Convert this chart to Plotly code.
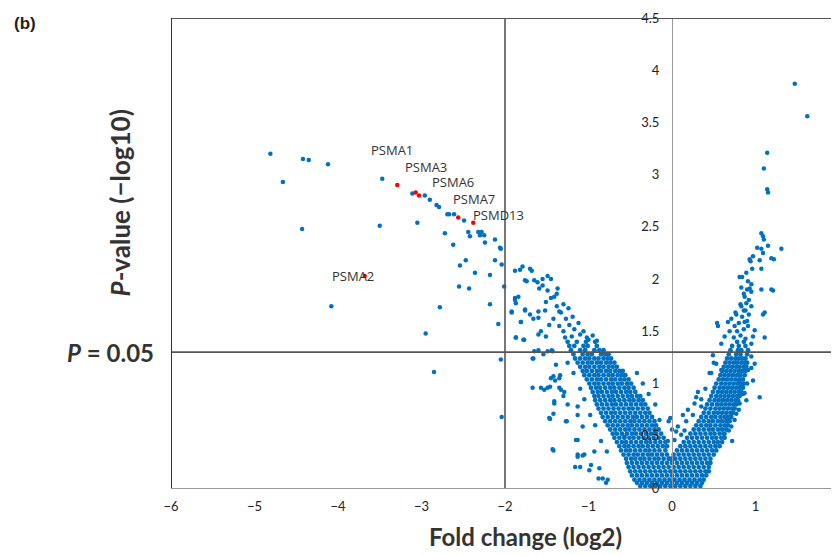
import plotly.graph_objects as go

# ---------------- data ----------------
# dense core of the volcano, row by row: (-log10 p) level and fold changes
base_rows_y = [0.02, 0.05, 0.08, 0.12, 0.16, 0.20, 0.24]
base_rows_x = [
    [-0.38, -0.32, -0.26, -0.20, -0.14, -0.08, -0.02, 0.04, 0.10, 0.16, 0.22, 0.28, 0.34],
    [-0.42, -0.36, -0.30, -0.24, -0.18, -0.12, -0.06, 0.00, 0.06, 0.12, 0.18, 0.24, 0.30, 0.36],
    [-0.45, -0.39, -0.33, -0.27, -0.21, -0.15, -0.09, -0.03, 0.03, 0.09, 0.15, 0.21, 0.27, 0.33, 0.38],
    [-0.48, -0.42, -0.36, -0.30, -0.24, -0.18, -0.12, -0.06, 0.00, 0.06, 0.12, 0.18, 0.24, 0.30, 0.36, 0.41],
    [-0.50, -0.44, -0.38, -0.32, -0.26, -0.20, -0.14, -0.08, -0.02, 0.04, 0.10, 0.16, 0.22, 0.28, 0.34, 0.40, 0.44],
    [-0.52, -0.46, -0.40, -0.34, -0.28, -0.22, -0.16, -0.10, -0.04, 0.02, 0.08, 0.14, 0.20, 0.26, 0.32, 0.38, 0.44],
    [-0.54, -0.48, -0.42, -0.36, -0.30, -0.24, -0.18, -0.12, -0.06, 0.00, 0.06, 0.12, 0.18, 0.24, 0.30, 0.36, 0.42, 0.46],
]

left_rows_y = [0.28, 0.32, 0.36, 0.40, 0.44, 0.48, 0.52, 0.56, 0.60, 0.64, 0.68, 0.72, 0.76, 0.80,
               0.84, 0.88, 0.92, 0.96, 1.00, 1.04, 1.08, 1.12, 1.16, 1.20, 1.24, 1.28, 1.32, 1.36, 1.40]
left_rows_x = [
    [-0.55, -0.49, -0.44, -0.38, -0.33, -0.27, -0.21, -0.16, -0.10, -0.04, 0.01],
    [-0.58, -0.52, -0.46, -0.41, -0.35, -0.29, -0.24, -0.18, -0.12, -0.06],
    [-0.61, -0.55, -0.50, -0.44, -0.38, -0.32, -0.27, -0.21, -0.15, -0.08],
    [-0.63, -0.57, -0.52, -0.46, -0.40, -0.35, -0.29, -0.23, -0.17, -0.11, -0.06],
    [-0.66, -0.60, -0.55, -0.49, -0.43, -0.37, -0.31, -0.26, -0.20, -0.14, -0.08],
    [-0.69, -0.63, -0.57, -0.51, -0.46, -0.40, -0.34, -0.28, -0.22, -0.16, -0.10],
    [-0.71, -0.66, -0.60, -0.54, -0.48, -0.43, -0.37, -0.31, -0.25, -0.19, -0.13],
    [-0.74, -0.68, -0.62, -0.56, -0.51, -0.45, -0.39, -0.33, -0.27, -0.21, -0.16],
    [-0.77, -0.71, -0.65, -0.59, -0.53, -0.48, -0.42, -0.36, -0.30, -0.24, -0.19],
    [-0.80, -0.74, -0.68, -0.62, -0.56, -0.50, -0.45, -0.39, -0.33, -0.27, -0.21],
    [-0.83, -0.77, -0.71, -0.65, -0.59, -0.53, -0.47, -0.42, -0.36, -0.30, -0.24],
    [-0.85, -0.79, -0.73, -0.68, -0.62, -0.56, -0.50, -0.44, -0.38, -0.32, -0.27],
    [-0.88, -0.82, -0.76, -0.70, -0.64, -0.58, -0.52, -0.47, -0.41, -0.35, -0.29],
    [-0.90, -0.84, -0.78, -0.72, -0.67, -0.61, -0.55, -0.49, -0.43, -0.37, -0.32],
    [-0.92, -0.86, -0.80, -0.74, -0.69, -0.63, -0.57, -0.51, -0.46, -0.40, -0.35],
    [-0.93, -0.88, -0.82, -0.76, -0.71, -0.65, -0.59, -0.53, -0.48, -0.42, -0.38],
    [-0.95, -0.89, -0.84, -0.78, -0.72, -0.67, -0.61, -0.55, -0.50, -0.44],
    [-0.97, -0.91, -0.86, -0.80, -0.74, -0.69, -0.63, -0.57, -0.52, -0.46],
    [-0.99, -0.93, -0.88, -0.82, -0.76, -0.71, -0.65, -0.60, -0.54, -0.49],
    [-1.02, -0.96, -0.90, -0.85, -0.79, -0.73, -0.68, -0.62, -0.57, -0.52],
    [-1.05, -0.99, -0.93, -0.88, -0.82, -0.76, -0.71, -0.65, -0.60, -0.56],
    [-1.07, -1.02, -0.96, -0.90, -0.85, -0.79, -0.74, -0.68, -0.63, -0.59],
    [-1.10, -1.04, -0.99, -0.93, -0.87, -0.82, -0.76, -0.71, -0.66],
    [-1.13, -1.07, -1.01, -0.96, -0.90, -0.85, -0.79, -0.74, -0.69],
    [-1.16, -1.10, -1.04, -0.99, -0.93, -0.88, -0.82, -0.77, -0.73],
    [-1.18, -1.07, -1.01, -0.96, -0.85, -0.80, -0.76],
    [-1.21, -1.10, -1.04, -0.93, -0.87, -0.82],
    [-1.23, -1.17, -1.06, -1.01, -0.90],
    [-1.25, -1.14, -1.03, -0.92],
]

right_rows_y = left_rows_y
right_rows_x = [
    [-0.02, 0.04, 0.10, 0.16, 0.22, 0.28, 0.34, 0.40, 0.46],
    [0.02, 0.08, 0.14, 0.20, 0.26, 0.32, 0.38, 0.44, 0.50],
    [0.06, 0.12, 0.18, 0.24, 0.30, 0.36, 0.42, 0.48, 0.53],
    [0.10, 0.16, 0.22, 0.28, 0.34, 0.40, 0.46, 0.52, 0.57],
    [0.14, 0.20, 0.26, 0.32, 0.38, 0.44, 0.50, 0.55, 0.60],
    [0.18, 0.24, 0.30, 0.36, 0.42, 0.48, 0.53, 0.59, 0.63],
    [0.22, 0.28, 0.34, 0.40, 0.46, 0.51, 0.57, 0.62],
    [0.26, 0.32, 0.38, 0.44, 0.49, 0.55, 0.60, 0.65],
    [0.29, 0.35, 0.41, 0.46, 0.52, 0.58, 0.63, 0.67],
    [0.32, 0.38, 0.44, 0.49, 0.55, 0.60, 0.65, 0.69],
    [0.35, 0.41, 0.47, 0.52, 0.58, 0.63, 0.68, 0.71],
    [0.38, 0.44, 0.50, 0.55, 0.60, 0.65, 0.70, 0.73],
    [0.40, 0.46, 0.52, 0.57, 0.62, 0.67, 0.72, 0.75],
    [0.42, 0.48, 0.54, 0.59, 0.64, 0.69, 0.74, 0.77],
    [0.45, 0.51, 0.56, 0.61, 0.66, 0.71, 0.76, 0.79],
    [0.47, 0.53, 0.58, 0.63, 0.68, 0.73, 0.78, 0.81],
    [0.49, 0.55, 0.60, 0.65, 0.70, 0.75, 0.80, 0.83],
    [0.51, 0.57, 0.62, 0.67, 0.72, 0.77, 0.81, 0.85],
    [0.53, 0.59, 0.64, 0.69, 0.74, 0.79, 0.83, 0.86],
    [0.56, 0.61, 0.66, 0.71, 0.76, 0.81, 0.85],
    [0.58, 0.63, 0.68, 0.73, 0.78, 0.82, 0.87],
    [0.60, 0.65, 0.70, 0.75, 0.80, 0.84, 0.88],
    [0.62, 0.67, 0.72, 0.77, 0.81, 0.86, 0.89],
    [0.64, 0.69, 0.74, 0.78, 0.83, 0.87, 0.90],
    [0.66, 0.71, 0.76, 0.80, 0.84, 0.88],
    [0.68, 0.77, 0.82, 0.90],
    [0.70, 0.79, 0.83, 0.91],
    [0.72, 0.80, 0.88],
    [0.78, 0.86],
]

# scattered proteins around the two arms and far outliers
scatter_x = [
    -1.88, -1.82, -1.79, -1.70, -1.68, -1.76, -1.74, -1.65, -1.61, -1.55, -1.49, -1.45, -1.55, -1.59,
    -1.49, -1.37, -1.38, -1.41, -1.45, -1.51, -1.35, -1.88, -1.87, -1.92, -1.81, -1.76, -1.70, -1.60,
    -1.47, -1.57, -1.60, -1.87, -1.77, -1.51, -1.65, -1.60, -1.49, -1.43, -1.67, -1.39, -1.45, -1.35,
    -1.49, -1.67, -1.57, -1.35, -1.29, -1.41, -1.47, -1.25, -1.13, -1.27, -1.13, -1.07, -1.43, -1.15,
    -1.13, -1.16, -1.05, -0.93, -0.97, -0.87, -0.79, -0.83,
    -1.88, -1.84, -1.92, -1.76, -1.66, -1.60, -1.52, -1.87, -1.78, -1.81, -1.66, -1.54, -1.44, -1.53,
    -1.46, -1.40, -1.42, -1.34, -1.33, -1.30, -1.41, -1.42, -1.46, -1.26, -1.42, -1.13, -1.13, -1.10,
    -1.07, -0.99, -0.88, -0.77, -0.57,
    -1.28, -1.20, -1.10, -1.02, -0.95, -1.30, -1.17, -1.06, -1.23, -1.12, -1.35, -1.27, -1.19, -1.33,
    -1.24, -1.30, -1.38, -1.42, -1.00, -0.90,
    -1.05, -1.10, -0.98, -0.92, -0.85, -0.78, -1.18, -1.25, -0.20, -0.15, -0.28, -0.35, -0.42, -0.05,
    1.07, 1.09, 1.10, 1.15, 1.07, 1.09, 0.93, 0.94, 1.05, 1.19, 1.22, 1.07, 0.81, 0.84, 0.91, 0.95,
    0.93, 0.90, 1.07, 1.19, 1.21, 0.87, 0.89, 0.83, 0.86, 0.95, 0.92, 1.11, 1.09, 0.54, 0.55, 0.67,
    0.71, 0.77, 0.59, 0.69, 0.75, 0.63, 0.87, 0.91, 0.99, 0.97, 1.11, 0.95, 0.49, 0.53, 0.59, 0.47,
    0.95, 0.99, 0.91, 0.97, 1.05, 0.31, 0.29, 0.27, 0.35, 0.19, 0.13, 0.17, 0.07, 0.05, 0.11, 0.03,
    -0.02, -0.04, 0.00, 0.80, 0.83, 0.87, 0.89, 0.81, 0.77, 0.67, 0.71, 0.63,
    0.74, 0.82, 0.88, 0.78, 0.86, 0.80, 0.90, 0.84, 0.76, 0.88, 0.82, 0.92, 0.86, 0.95, 0.89, 0.96,
    0.97, 1.02, 0.83,
    0.68, 0.75, 0.80, 0.85, 0.90, 0.95, 0.72, 0.15, 0.25, 0.35, 0.40, 0.45, 0.50,
    1.47, 1.62, 1.14, 1.10, 1.14, 1.15, 1.31,
    -4.81, -4.42, -4.35, -4.12, -4.66, -3.47, -3.11, -2.96, -2.90, -2.82, -2.79, -2.69, -2.67, -2.61,
    -2.49, -2.44, -2.42, -2.32, -2.28, -2.30, -2.25, -2.24, -2.12, -2.06, -2.05, -4.43, -3.50, -3.05,
    -2.72, -2.62, -2.47, -2.54, -2.36, -2.18, -2.12, -2.04, -2.55, -2.43, -2.01, -2.78, -2.18, -2.95,
    -2.08, -2.85, -2.05, -2.04, -4.08,
]
scatter_y = [
    2.08, 2.09, 2.12, 2.10, 2.08, 1.99, 1.98, 1.99, 1.97, 2.00, 2.03, 2.00, 1.94, 1.91,
    1.89, 1.91, 1.86, 1.83, 1.82, 1.78, 1.69, 1.82, 1.77, 1.68, 1.59, 1.71, 1.66, 1.63,
    1.56, 1.50, 1.47, 1.44, 1.42, 1.45, 1.31, 1.32, 1.31, 1.31, 1.24, 1.18, 1.05, 1.05,
    0.96, 0.96, 0.96, 0.96, 0.92, 0.83, 0.67, 0.80, 0.78, 0.64, 0.70, 0.59, 0.37, 0.46,
    0.32, 0.20, 0.32, 0.35, 0.22, 0.19, 0.05, 0.09,
    1.80, 1.83, 1.69, 1.70, 1.62, 1.69, 1.70, 1.44, 1.42, 1.59, 1.24, 1.28, 1.32, 0.94,
    0.97, 1.03, 1.07, 1.08, 0.94, 0.88, 0.81, 0.71, 0.66, 0.64, 0.36, 0.46, 0.30, 0.20,
    0.31, 0.17, 0.09, 0.08, 0.49,
    1.44, 1.45, 1.47, 1.44, 1.46, 1.50, 1.52, 1.50, 1.56, 1.58, 1.55, 1.62, 1.64, 1.68,
    1.72, 1.76, 1.74, 1.62, 1.42, 1.41,
    0.85, 0.95, 0.70, 0.60, 0.45, 0.35, 1.10, 1.20, 0.80, 0.65, 0.90, 1.00, 1.10, 0.45,
    2.44, 2.41, 2.38, 2.32, 2.29, 2.25, 2.19, 2.17, 2.18, 2.20, 2.19, 2.10, 2.02, 2.02, 1.98, 1.95,
    1.91, 1.90, 1.90, 1.90, 1.89, 1.83, 1.77, 1.74, 1.70, 1.74, 1.66, 1.68, 1.66, 1.58, 1.55, 1.59,
    1.62, 1.66, 1.38, 1.50, 1.55, 1.45, 1.59, 1.55, 1.51, 1.45, 1.44, 1.38, 1.27, 1.19, 1.13, 1.10,
    1.26, 1.19, 1.13, 1.03, 0.87, 0.92, 0.87, 0.81, 0.78, 0.75, 0.70, 0.64, 0.59, 0.54, 0.51, 0.46,
    0.67, 0.64, 0.56, 1.03, 0.97, 0.91, 0.84, 0.81, 0.71, 0.68, 0.59, 0.52,
    1.44, 1.46, 1.43, 1.50, 1.52, 1.58, 1.60, 1.64, 1.68, 1.70, 1.76, 1.80, 1.86, 1.88, 2.06, 2.10,
    2.22, 2.30, 1.92,
    0.55, 0.65, 0.75, 0.90, 1.00, 1.15, 0.45, 0.55, 0.70, 0.85, 0.95, 1.10, 1.20,
    3.87, 3.56, 3.21, 3.06, 2.86, 2.83, 2.29,
    3.20, 3.15, 3.14, 3.10, 2.93, 2.96, 2.82, 2.80, 2.76, 2.71, 2.69, 2.62, 2.62, 2.62,
    2.56, 2.45, 2.41, 2.45, 2.45, 2.42, 2.42, 2.35, 2.38, 2.30, 2.29, 2.48, 2.51, 2.54,
    2.44, 2.33, 2.18, 2.13, 2.06, 2.04, 2.18, 2.14, 1.93, 1.91, 1.93, 1.73, 1.76, 1.48,
    1.57, 1.11, 1.23, 0.68, 1.74,
]

# proteasome subunits highlighted in red
psm_names = ["PSMA1", "PSMA3", "PSMA6", "PSMA7", "PSMD13", "PSMA2"]
psm_x = [-3.29, -3.07, -3.03, -2.56, -2.38, -3.68]
psm_y = [2.90, 2.83, 2.80, 2.59, 2.54, 2.03]

x_ticks = [-6, -5, -4, -3, -2, -1, 0, 1, 2]
y_ticks = [0, 0.5, 1, 1.5, 2, 2.5, 3, 3.5, 4, 4.5]
p_cut = 1.301  # -log10(0.05)
fc_cut = -2

# ---------------- figure ----------------
dx, dy = [], []
for yv, xs in zip(base_rows_y, base_rows_x):
    dx += xs
    dy += [yv] * len(xs)
for yv, xs in zip(left_rows_y, left_rows_x):
    dx += xs
    dy += [yv] * len(xs)
for yv, xs in zip(right_rows_y, right_rows_x):
    dx += xs
    dy += [yv] * len(xs)

BLUE = "#0070C0"
fig = go.Figure()
fig.add_trace(go.Scatter(x=dx, y=dy, mode="markers", hoverinfo="skip",
                         marker=dict(color=BLUE, size=4.8, line=dict(width=0)), showlegend=False))
fig.add_trace(go.Scatter(x=scatter_x, y=scatter_y, mode="markers",
                         marker=dict(color=BLUE, size=4.5, line=dict(width=0)), showlegend=False))
fig.add_trace(go.Scatter(x=psm_x, y=psm_y, mode="markers", text=psm_names,
                         marker=dict(color="#FF0000", size=4.5, line=dict(width=0)), showlegend=False))

# label positions (left edge, middle) for each highlighted subunit
label_pos = [(-3.62, 3.24), (-3.21, 3.07), (-2.89, 2.93), (-2.63, 2.77), (-2.40, 2.61), (-4.08, 2.03)]
for name, (lx, ly) in zip(psm_names, label_pos):
    fig.add_annotation(x=lx, y=ly, text=name, showarrow=False, xanchor="left", yanchor="middle",
                       borderpad=0,
                       font=dict(family="Open Sans, sans-serif", size=13, color="#333333"))

LINE = "#555555"
fig.add_shape(type="line", x0=fc_cut, x1=fc_cut, y0=0, y1=4.5, xref="x", yref="y",
              line=dict(color=LINE, width=1.6), layer="above")
fig.add_shape(type="line", x0=-6, x1=2, y0=p_cut, y1=p_cut, xref="x", yref="y",
              line=dict(color=LINE, width=1.6), layer="above")
fig.add_shape(type="line", x0=-6, x1=2, y0=4.5, y1=4.5, xref="x", yref="y",
              line=dict(color=LINE, width=2), layer="above")
fig.add_shape(type="line", x0=-6, x1=-6, y0=0, y1=4.5, xref="x", yref="y",
              line=dict(color="#333333", width=2), layer="above")

def title_font(size):
    return dict(family="Lato, Open Sans, sans-serif", size=size, color="#333333")

fig.add_annotation(xref="paper", yref="paper", x=0.531, y=-0.068, xanchor="center", yanchor="top",
                   text="<b>Fold change (log2)</b>", showarrow=False, font=title_font(24))
fig.add_annotation(xref="paper", yref="y", x=-0.077, y=2.73, xanchor="center", yanchor="middle",
                   textangle=-90, text="<b><i>P</i>-value (−log10)</b>", showarrow=False,
                   font=title_font(26))
fig.add_annotation(xref="paper", yref="y", x=-0.023, y=p_cut, xanchor="right", yanchor="middle",
                   text="<b><i>P</i> = 0.05</b>", showarrow=False, font=title_font(24))
fig.add_annotation(xref="paper", yref="paper", x=-0.238, y=1.013, xanchor="left", yanchor="top",
                   text="<b>(b)</b>", showarrow=False,
                   font=dict(family="Liberation Sans, Arial", size=17, color="#222222"))

TICK_FONT = dict(family="Lato, Open Sans, sans-serif", size=13, color="#222222")
# the page adds an 8 px body margin, so the figure is 8 px smaller than the window
fig.update_layout(
    width=831, height=547,
    margin=dict(l=163, r=0, t=10, b=67),
    paper_bgcolor="white", plot_bgcolor="white",
    font=TICK_FONT,
    xaxis=dict(range=[-6, 2], tickvals=x_ticks, showgrid=False, zeroline=False,
               showline=True, linecolor="#999999", linewidth=1, ticks="",
               ticklabelstandoff=6, tickfont=TICK_FONT),
    yaxis=dict(range=[0, 4.5], tickvals=y_ticks, showgrid=False, zeroline=False,
               anchor="free", position=0.75, side="left",
               showline=True, linecolor="#999999", linewidth=1, ticks="",
               ticklabelstandoff=10, tickfont=TICK_FONT),
)

fig.write_html("out.html")
